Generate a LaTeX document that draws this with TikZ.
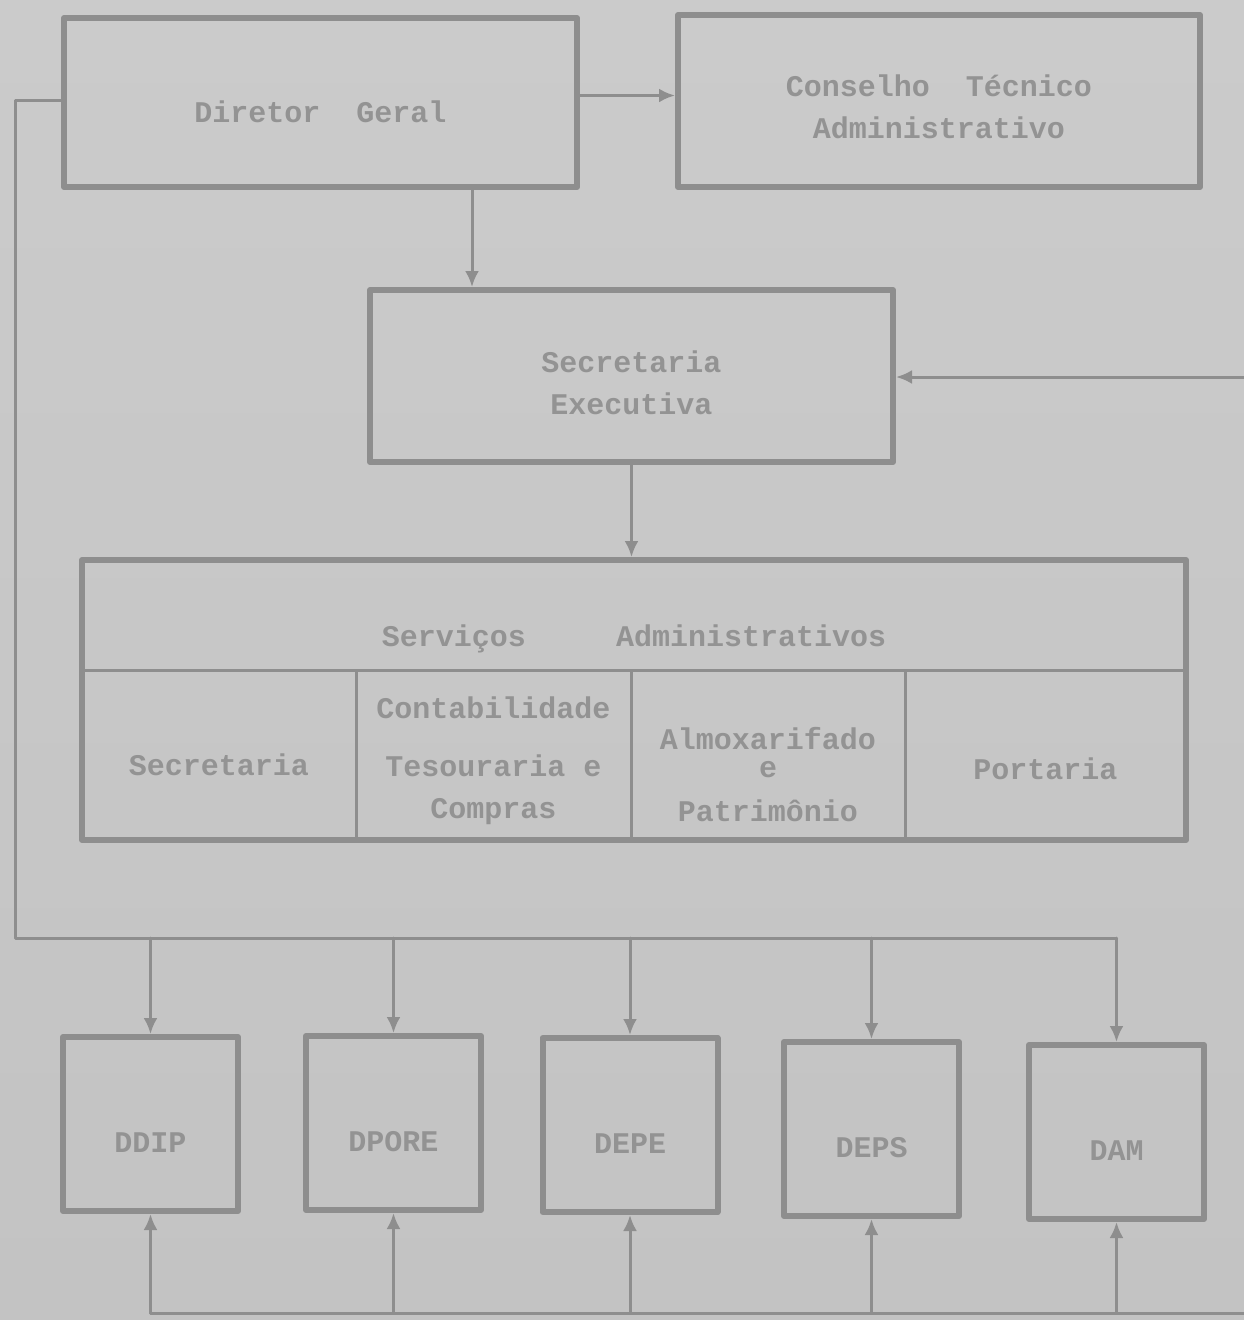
\documentclass[tikz,border=0pt]{standalone}
\usepackage{fontspec}
\setmonofont{Liberation Mono}
\usetikzlibrary{arrows.meta,calc,positioning}
\definecolor{orgPaper}{HTML}{CBCBCB}
\definecolor{orgPaperDark}{HTML}{C3C3C3}
\definecolor{orgLine}{HTML}{8E8E8E}
\definecolor{orgInk}{HTML}{939393}

\begin{document}
\begin{tikzpicture}[x=1pt,y=-1pt,>={Latex[length=16pt,width=14pt]},line cap=round,line join=round]
\useasboundingbox (0,0) rectangle (1244,1320);
\shade[top color=orgPaper,bottom color=orgPaperDark] (0,0) rectangle (1244,1320);
\tikzset{box/.style={draw=orgLine,line width=6pt,inner sep=0pt},cell/.style={draw=orgLine,line width=3pt,inner sep=0pt},conn/.style={draw=orgLine,line width=3pt},lbl/.style={text=orgInk,font=\ttfamily\bfseries\fontsize{30}{42}\selectfont,align=center},dept/.style={box,lbl,minimum width=175pt,minimum height=174pt,text height=56pt,text depth=0pt}}
% direction
\node[box,lbl,minimum width=513pt,minimum height=169pt,text height=40pt,text depth=0pt] (dir) at (320.5,102.5) {Diretor\ \ Geral};
\node[box,lbl,minimum width=522pt,minimum height=172pt,text height=76pt] (cons) at (939,101) {Conselho\ \ Técnico\\Administrativo};
\node[box,lbl,minimum width=523pt,minimum height=172pt,text height=78pt] (sec) at (631.5,376) {Secretaria\\Executiva};
% services
\node[cell,lbl,minimum width=1104pt,minimum height=110pt,text height=62pt,text depth=0pt] (servH) at (634,615) {Serviços\ \ \ \ \ Administrativos};
\node[cell,lbl,minimum width=274pt,minimum height=170pt,text height=40pt,text depth=0pt] (c1) at (219,755) {Secretaria};
\node[cell,lbl,minimum width=275pt,minimum height=170pt,text height=134pt] (c2) at (493.5,755) {Contabilidade\\[16pt]Tesouraria e\\Compras};
\node[cell,lbl,minimum width=274pt,minimum height=170pt,text height=134pt] (c3) at (768,755) {Almoxarifado\\[-14pt]e\\[2pt]Patrimônio};
\node[cell,lbl,minimum width=281pt,minimum height=170pt,text height=48pt,text depth=0pt] (c4) at (1045.5,755) {Portaria};
\node[box,minimum width=1104pt,minimum height=280pt] (serv) at (634,700) {};
% departments
\node[dept] (ddip) at (150.5,1124) {DDIP};
\node[dept] (dpore) at (393.5,1123) {DPORE};
\node[dept] (depe) at (630,1125) {DEPE};
\node[dept] (deps) at (871.5,1129) {DEPS};
\node[dept] (dam) at (1116.5,1132) {DAM};
% connectors
\draw[conn,->] ([yshift=7pt]dir.east) -- ([yshift=7pt]dir.east -| cons.west);
\draw[conn,->] ([xshift=151.5pt]dir.south) -- ([xshift=151.5pt]dir.south |- sec.north);
\coordinate (feedR) at (1244,377);
\draw[conn,->] (feedR) -- (feedR -| sec.east);
\draw[conn,->] (sec.south) -- (sec.south |- serv.north);
\coordinate (busTop) at (15,938); \coordinate (busLow) at (1244,1313);
\draw[conn] ([yshift=2pt]dir.west) -| (busTop) -- (busTop -| dam.north);
\draw[conn] (ddip.south |- busLow) -- (busLow);
\foreach \d in {ddip,dpore,depe,deps,dam}{\draw[conn,->] (\d.north |- busTop) -- (\d.north); \draw[conn,->] (\d.south |- busLow) -- (\d.south);}
\end{tikzpicture}
\end{document}
